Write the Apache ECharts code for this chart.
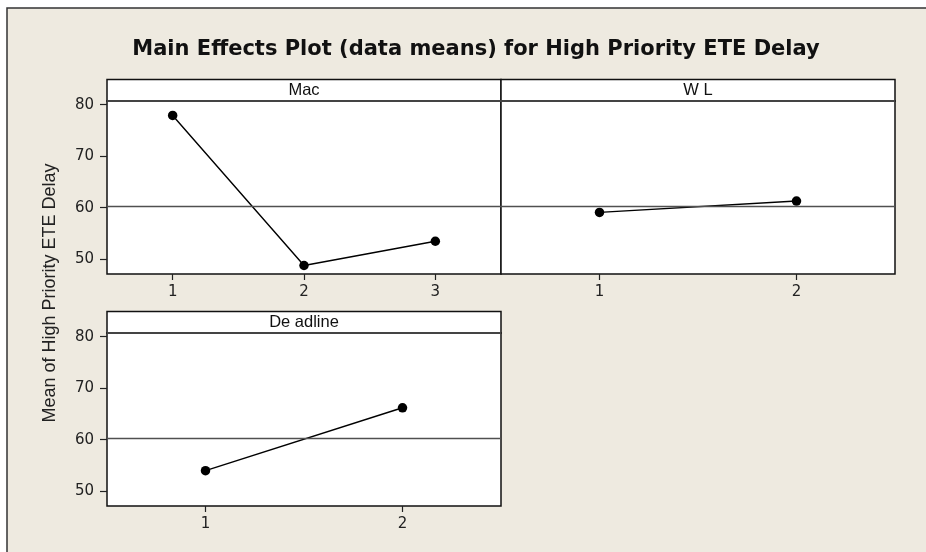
<!DOCTYPE html>
<html>
<head>
<meta charset="utf-8">
<script src="https://cdn.jsdelivr.net/npm/echarts@6/dist/echarts.min.js"></script>
<style>
  html, body { margin: 0; padding: 0; background: #ffffff; }
  #chart { width: 926px; height: 552px; }
</style>
</head>
<body>
<div id="chart"></div>
<script>
// Factor levels and mean response at each level
const macLevels = ['1', '2', '3'];
const macMeans = [77.9, 48.8, 53.5];
const wlLevels = ['1', '2'];
const wlMeans = [59.1, 61.3];
const deadlineLevels = ['1', '2'];
const deadlineMeans = [54.0, 66.2];
const grandMean = 60.2;
const yTickValues = [50, 60, 70, 80];

const chartTitle = 'Main Effects Plot (data means) for High Priority ETE Delay';
const yTitle = 'Mean of High Priority ETE Delay';
const panelNames = ['Mac', 'W L', 'De adline'];

// Panel geometry (pixels)
const panelW = 394, panelH = 173, headerH = 21.5;
const panels = [
  { left: 107, top: 101 },
  { left: 501, top: 101 },
  { left: 107, top: 333 }
];
const Y_MIN = 47.15, Y_MAX = 80.7;

const chart = echarts.init(document.getElementById('chart'), null, { renderer: 'canvas' });

const grids = panels.map(p => ({
  left: p.left, top: p.top, width: panelW, height: panelH,
  show: true, backgroundColor: '#ffffff', borderColor: '#111111', borderWidth: 1.5,
  containLabel: false
}));

const levelSets = [macLevels, wlLevels, deadlineLevels];
const meanSets = [macMeans, wlMeans, deadlineMeans];

const xAxes = levelSets.map((lv, i) => ({
  type: 'category', gridIndex: i, data: lv, boundaryGap: true,
  axisLine: { show: false },
  axisTick: { show: true, alignWithLabel: true, length: 6, lineStyle: { color: '#222', width: 1.2 } },
  axisLabel: { color: '#222', fontFamily: 'DejaVu Sans', fontSize: 15, margin: 11 },
  splitLine: { show: false }
}));

const yAxes = [0, 1, 2].map(i => ({
  type: 'value', gridIndex: i, min: Y_MIN, max: Y_MAX,
  axisLine: { show: false },
  axisTick: { show: i !== 1, length: 7, customValues: yTickValues, lineStyle: { color: '#222', width: 1.2 } },
  axisLabel: { show: i !== 1, customValues: yTickValues, color: '#222', fontFamily: 'DejaVu Sans', fontSize: 15, margin: 13 },
  splitLine: { show: false }
}));

const series = meanSets.map((vals, i) => ({
  type: 'line', xAxisIndex: i, yAxisIndex: i, data: vals,
  symbol: 'circle', symbolSize: 9.5,
  itemStyle: { color: '#000' },
  lineStyle: { color: '#000', width: 1.4 },
  animation: false,
  markLine: {
    silent: true, symbol: ['none', 'none'], animation: false,
    label: { show: false },
    lineStyle: { color: '#505050', width: 1.3, type: 'solid' },
    data: [{ yAxis: grandMean }]
  }
}));

// Frame, panel header strips and the shared y title
const graphics = [
  {
    type: 'rect', z: -100, silent: true,
    shape: { x: 7, y: 8, width: 960, height: 600 },
    style: { fill: '#eeeae0', stroke: '#333', lineWidth: 1.5 }
  }
];
panels.forEach((p, i) => {
  graphics.push({
    type: 'rect', z: 10, silent: true,
    shape: { x: p.left, y: p.top - headerH, width: panelW, height: headerH },
    style: { fill: '#ffffff', stroke: '#111', lineWidth: 1.5 }
  });
  graphics.push({
    type: 'line', z: 11, silent: true,
    shape: { x1: p.left, y1: p.top, x2: p.left + panelW, y2: p.top },
    style: { stroke: '#444', lineWidth: 2.2 }
  });
  graphics.push({
    type: 'text', z: 12, silent: true,
    x: p.left + panelW / 2, y: p.top - headerH / 2 + 0.5,
    style: {
      text: panelNames[i], fill: '#111', font: '16.5px "Liberation Sans", Arial, sans-serif',
      align: 'center', verticalAlign: 'middle'
    }
  });
});
graphics.push({
  type: 'text', z: 12, silent: true,
  x: 50, y: 293, rotation: Math.PI / 2,
  style: {
    text: yTitle, fill: '#222', font: '18px "Liberation Sans", Arial, sans-serif',
    align: 'center', verticalAlign: 'middle'
  }
});

chart.setOption({
  backgroundColor: '#ffffff',
  animation: false,
  title: {
    text: chartTitle, left: 471, top: 34, textAlign: 'center',
    textStyle: { fontFamily: 'DejaVu Sans', fontWeight: 'bold', fontSize: 21, color: '#111' }
  },
  grid: grids,
  xAxis: xAxes,
  yAxis: yAxes,
  series: series,
  graphic: graphics
});
</script>
</body>
</html>
